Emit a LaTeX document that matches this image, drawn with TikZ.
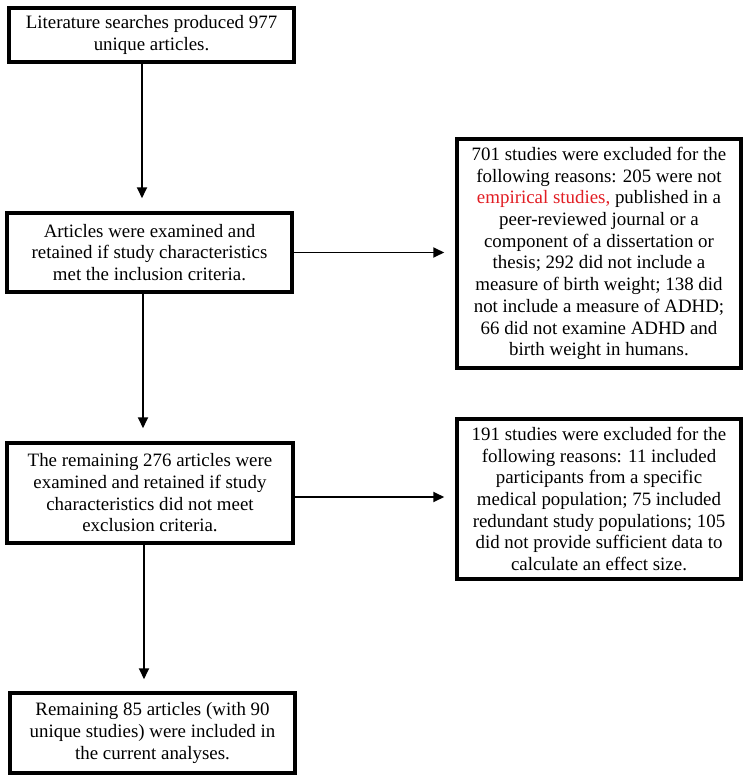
\documentclass[tikz,border=0pt]{standalone}
\usepackage{fontspec}
\setmainfont{Liberation Serif}
\usetikzlibrary{arrows.meta}
\definecolor{redtxt}{RGB}{226,30,36}
\begin{document}
\begin{tikzpicture}[x=1pt,y=-1pt,
  box/.style={draw=black, line width=3.5pt, fill=white, inner sep=0pt, align=center,
    font=\fontsize{18.9}{21.7}\selectfont},
  arr/.style={line width=1.8pt, -{Triangle[length=11pt,width=10pt]}}]
\useasboundingbox (0,0) rectangle (749,781);
\fill[white] (0,0) rectangle (749,781);

\node[box, minimum width=285pt, minimum height=54pt] (b1) at (151.5,35)
  {Literature searches produced 977\\unique articles.};
\node[box, minimum width=285pt, minimum height=79pt] (b2) at (149.5,252.5)
  {Articles were examined and\\retained if study characteristics\\met the inclusion criteria.};
\node[box, minimum width=284pt, minimum height=229pt] (b3) at (599,253.5)
  {701 studies were excluded for the\\following reasons: 205 were not\\{\color{redtxt}empirical studies,} published in a\\peer-reviewed journal or a\\component of a dissertation or\\thesis; 292 did not include a\\measure of birth weight; 138 did\\not include a measure of ADHD;\\66 did not examine ADHD and\\birth weight in humans.};
\node[box, minimum width=286pt, minimum height=100pt] (b4) at (150,493)
  {The remaining 276 articles were\\examined and retained if study\\characteristics did not meet\\exclusion criteria.};
\node[box, minimum width=284pt, minimum height=160pt] (b5) at (599,499)
  {191 studies were excluded for the\\following reasons: 11 included\\participants from a specific\\medical population; 75 included\\redundant study populations; 105\\did not provide sufficient data to\\calculate an effect size.};
\node[box, minimum width=285pt, minimum height=80pt] (b6) at (152.5,733)
  {Remaining 85 articles (with 90\\unique studies) were included in\\the current analyses.};

\coordinate (s1) at (142,62);
\coordinate (s2) at (143,292);
\coordinate (s3) at (144,543);
\coordinate (h2) at (292,497);

\draw[arr, shorten >=13pt] (s1) -- (s1 |- b2.north);
\draw[arr, shorten >=13pt] (s2) -- (s2 |- b4.north);
\draw[arr, shorten >=12pt] (s3) -- (s3 |- b6.north);
\draw[arr, shorten >=11pt] (b2.east) -- (b2.east -| b3.west);
\draw[arr, shorten >=11pt] (h2) -- (h2 -| b5.west);
\end{tikzpicture}
\end{document}
